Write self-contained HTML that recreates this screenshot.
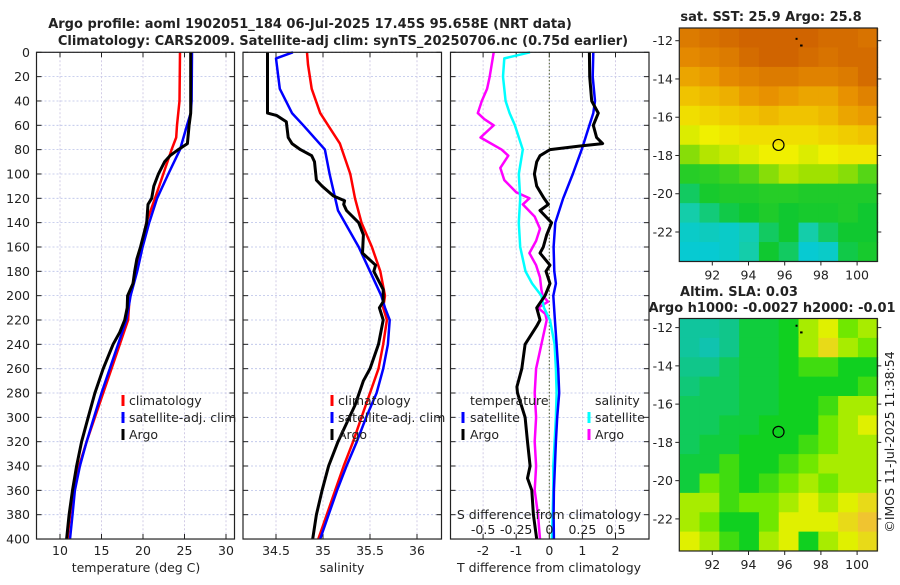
<!DOCTYPE html>
<html><head><meta charset="utf-8"><style>
body{margin:0;background:#fff;}
svg text{font-family:"DejaVu Sans","Liberation Sans",sans-serif;}
</style></head><body>
<svg id="chart" width="900" height="580" viewBox="0 0 900 580" xmlns="http://www.w3.org/2000/svg">
<rect width="900" height="580" fill="#fff"/>
</svg>
<script>
// ---------- DATA ----------
const tClimDepth=[0,40,60,70,80,100,120,140,160,180,200,220,240,260,280,300,320,340,360,380,400];
const tClimVal=[24.46,24.4,24.1,24.0,23.45,22.45,21.45,20.4,19.8,19.15,18.4,18.2,17.2,16.2,15.2,14.2,13.2,12.3,11.6,11.2,10.9];
const tSatDepth=[0,40,50,60,80,100,120,140,160,180,200,220,240,260,280,300,320,340,360,380,400];
const tSatVal=[25.9,25.85,25.75,25.3,24.46,23.05,21.7,20.75,19.95,19.3,18.5,18.0,17.0,16.0,15.0,14.1,13.2,12.4,11.8,11.5,11.2];
const tArgoDepth=[0,50,60,75,80,85,90,100,110,120,125,140,160,170,180,190,200,210,220,230,240,260,280,300,320,340,360,380,400];
const tArgoVal=[25.75,25.75,25.55,25.35,24.25,23.25,22.6,21.85,21.3,21.05,20.6,20.45,19.7,19.25,19.0,18.8,18.15,18.1,17.8,17.2,16.4,15.2,14.2,13.4,12.6,12.0,11.5,11.1,10.8];

const sClimDepth=[0,10,30,50,75,100,120,140,160,180,200,210,220,240,260,280,300,320,340,360,380,400];
const sClimVal=[34.83,34.84,34.88,34.97,35.18,35.29,35.34,35.41,35.52,35.61,35.66,35.64,35.68,35.64,35.59,35.5,35.41,35.32,35.22,35.13,35.04,34.95];
const sSatDepth=[0,5,30,50,60,80,100,120,130,160,180,200,210,220,240,260,280,300,320,340,360,380,400];
const sSatVal=[34.68,34.5,34.54,34.67,34.79,35.02,35.07,35.13,35.16,35.38,35.5,35.62,35.66,35.71,35.69,35.64,35.57,35.46,35.36,35.25,35.15,35.06,34.97];
const sArgoDepth=[0,50,52,57,70,75,80,85,90,105,110,118,122,125,130,140,150,165,175,180,195,205,210,220,240,260,270,290,310,320,340,360,380,400];
const sArgoVal=[34.41,34.41,34.51,34.61,34.63,34.67,34.76,34.88,34.91,34.93,34.99,35.11,35.23,35.22,35.25,35.38,35.43,35.42,35.56,35.54,35.64,35.64,35.6,35.64,35.59,35.5,35.43,35.34,35.22,35.16,35.06,34.99,34.93,34.89];

const dtArgoDepth=[0,20,40,50,60,70,75,77,80,85,90,100,110,120,125,130,140,150,160,165,175,180,190,200,210,220,225,240,260,275,280,300,320,340,350,360,380,400];
const dtArgoVal=[1.21,1.22,1.28,1.48,1.33,1.43,1.61,0.93,0.02,-0.28,-0.38,-0.45,-0.38,-0.16,-0.03,-0.28,0.07,-0.08,-0.18,-0.28,0.02,-0.1,0.02,-0.13,-0.38,-0.28,-0.38,-0.73,-0.83,-0.98,-0.96,-0.73,-0.66,-0.58,-0.66,-0.53,-0.48,-0.38];
const dtSatDepth=[0,20,40,50,60,80,100,120,140,160,180,190,200,220,240,260,280,300,320,340,360,380,400];
const dtSatVal=[1.33,1.31,1.38,1.33,1.21,0.98,0.71,0.42,0.18,0.13,0.15,0.2,0.12,0.17,0.22,0.27,0.3,0.24,0.2,0.17,0.14,0.13,0.14];
const dsSatDepth=[0,5,20,40,50,60,80,100,120,140,160,180,190,200,210,220,240,260,280,300,320,340,360,380,400];
const dsSatVal=[-0.146,-0.34,-0.35,-0.33,-0.30,-0.26,-0.2,-0.23,-0.22,-0.23,-0.22,-0.18,-0.13,-0.06,-0.04,0.005,0.04,0.05,0.055,0.05,0.04,0.03,0.03,0.025,0.02];
const dsArgoDepth=[0,20,30,40,50,55,60,70,80,85,95,105,115,120,125,135,145,155,165,175,185,195,200,205,210,215,220,240,260,280,300,320,340,360,380,400];
const dsArgoVal=[-0.42,-0.45,-0.47,-0.51,-0.54,-0.49,-0.42,-0.52,-0.36,-0.31,-0.37,-0.34,-0.25,-0.15,-0.2,-0.11,-0.07,-0.1,-0.15,-0.1,-0.07,-0.06,-0.05,-0.01,-0.085,-0.03,-0.02,-0.06,-0.1,-0.11,-0.1,-0.11,-0.1,-0.11,-0.085,-0.07];

const depthTicks=[0,20,40,60,80,100,120,140,160,180,200,220,240,260,280,300,320,340,360,380,400];
const tempTicks=[10,15,20,25,30];
const salTicks=[34.5,35,35.5,36];
const dtTicks=[-2,-1,0,1,2];
const dsTicks=[-0.5,-0.25,0,0.25,0.5];
const dsTickLabels=["-0.5","-0.25","0","0.25","0.5"];

const sstGrid=[
[27.0,27.1,27.2,27.3,27.4,27.4,27.3,27.2,27.2,27.1],
[26.8,26.9,27.0,27.2,27.3,27.3,27.2,27.1,27.2,27.2],
[26.5,26.6,26.8,26.9,27.0,27.0,26.9,26.9,27.0,27.2],
[26.2,26.3,26.4,26.6,26.7,26.6,26.5,26.5,26.7,26.9],
[25.9,26.0,26.1,26.2,26.3,26.2,26.2,26.3,26.5,26.6],
[25.6,25.7,25.8,25.9,25.9,25.9,25.9,26.0,26.1,26.2],
[25.2,25.4,25.5,25.6,25.7,25.7,25.6,25.7,25.8,25.8],
[24.6,24.7,24.9,25.0,25.2,25.4,25.3,25.3,25.2,25.0],
[24.1,24.4,24.5,24.5,24.6,24.6,24.5,24.5,24.5,24.5],
[23.8,24.0,24.2,24.3,24.5,24.3,24.4,24.4,24.5,24.3],
[23.5,23.6,23.5,23.7,24.1,24.3,23.8,24.1,24.3,24.3],
[23.4,23.4,23.5,23.8,24.3,24.1,23.4,23.5,24.2,24.4]];
const slaGrid=[
[-0.06,-0.06,-0.05,-0.02,-0.02,-0.01,0.02,0.03,0.01,0.02],
[-0.06,-0.07,-0.05,-0.02,-0.02,-0.01,0.02,0.04,0.02,0.01],
[-0.05,-0.05,-0.03,-0.02,-0.02,-0.01,0.0,0.0,-0.01,-0.01],
[-0.04,-0.03,-0.03,-0.02,-0.02,-0.01,-0.01,-0.01,-0.01,0.0],
[-0.03,-0.03,-0.03,-0.02,-0.02,-0.01,-0.01,0.0,0.02,0.02],
[-0.03,-0.03,-0.02,-0.02,-0.01,-0.01,-0.01,0.01,0.02,0.03],
[-0.03,-0.02,-0.02,-0.01,-0.01,-0.01,0.0,0.01,0.02,0.02],
[-0.02,-0.02,0.0,-0.01,-0.01,0.0,0.01,0.02,0.02,0.02],
[-0.02,0.01,0.0,-0.01,0.0,0.01,0.02,0.01,0.02,0.02],
[0.02,0.02,0.0,0.01,0.01,0.02,0.03,0.02,0.03,0.04],
[0.02,0.01,-0.01,-0.01,0.01,0.03,0.03,0.03,0.04,0.05],
[0.03,0.02,0.0,-0.01,0.02,0.03,-0.01,0.02,0.03,0.04]];
const lonTicks=[92,94,96,98,100];
const latTicks=[-12,-14,-16,-18,-20,-22];
const argoPos=[95.658,-17.45];

// ---------- HELPERS ----------
const svg=document.getElementById('chart');
const NS='http://www.w3.org/2000/svg';
function mk(tag,attrs,parent){const e=document.createElementNS(NS,tag);for(const k in attrs)e.setAttribute(k,attrs[k]);(parent||svg).appendChild(e);return e;}
function txt(s,x,y,size,anchor,weight,parent){const t=mk('text',{x:x,y:y,'font-size':size,'text-anchor':anchor||'middle','font-weight':weight||'normal',fill:'#222'},parent);t.textContent=s;return t;}

const yTop=52.3, yPx=1.2168;
const yD=d=>yTop+d*yPx;
const panels=[
 {name:'temperature',x0:36.5,x1:234.5,sx:v=>60+(v-10)*8.3},
 {name:'salinity',x0:243,x1:441.5,sx:v=>323+(v-35)*94},
 {name:'difference',x0:450.5,x1:649,sx:v=>549.3+v*33.1}
];
const sxS=v=>549.3+v*4*33.1;

function panelFrame(p,ticks,tickLabels,showDepth){
  const g=mk('g',{});
  
  
  const yB=yD(400);
  depthTicks.forEach(d=>{
    const l=mk('line',{x1:p.x0,x2:p.x1,y1:yD(d),y2:yD(d),stroke:'#b8c0e8','stroke-width':0.8,'stroke-dasharray':'2,2'},g);
    
    mk('line',{x1:p.x0,x2:p.x0+5,y1:yD(d),y2:yD(d),stroke:'#222'},g);
    mk('line',{x1:p.x1-5,x2:p.x1,y1:yD(d),y2:yD(d),stroke:'#222'},g);
    if(showDepth){const t=txt(String(d),30,yD(d)+4.5,12.5,'end','normal',g);}
  });
  ticks.forEach((v,i)=>{
    const x=p.sx(v);
    const l=mk('line',{x1:x,x2:x,y1:yTop,y2:yB,stroke:'#c8c0e0','stroke-width':0.8,'stroke-dasharray':'2,2'},g);
    
    mk('line',{x1:x,x2:x,y1:yB-5,y2:yB,stroke:'#222'},g);
    mk('line',{x1:x,x2:x,y1:yTop,y2:yTop+5,stroke:'#222'},g);
    const t=txt(tickLabels[i],x,555,12.5,'middle','normal',g);
    
  });
  return g;
}
function line(p,sx,depths,vals,color,w,name){
  const pts=depths.map((d,i)=>sx(vals[i]).toFixed(1)+','+yD(d).toFixed(1)).join(' ');
  const e=mk('polyline',{points:pts,fill:'none',stroke:color,'stroke-width':w,'stroke-linejoin':'round'});
  
  
  return e;
}
function border(p){const r=mk('rect',{x:p.x0,y:yTop,width:p.x1-p.x0,height:yD(400)-yTop,fill:'none',stroke:'#222','stroke-width':1.2});}
function legendItem(mx,tx,y,color,label,g){
  const m=mk('rect',{x:mx-1.5,y:y-10,width:3,height:11,fill:color},g);
  
  const t=txt(label,tx,y,12.5,'start','normal',g);
  
}

// ---------- TITLE ----------
let t1=txt('Argo profile: aoml 1902051_184 06-Jul-2025 17.45S 95.658E (NRT data)',310,28,13,'middle','bold');

let t2=txt('Climatology: CARS2009. Satellite-adj clim: synTS_20250706.nc (0.75d earlier)',343,45,13,'middle','bold');


// ---------- PANEL 1 ----------
let P=panels[0];
panelFrame(P,tempTicks,tempTicks.map(String),true);
line(P,P.sx,tClimDepth,tClimVal,'#ff0000',2.5,'temp-climatology-line');
line(P,P.sx,tSatDepth,tSatVal,'#0000ff',2.5,'temp-satellite-line');
line(P,P.sx,tArgoDepth,tArgoVal,'#000',3,'temp-argo-line');
border(P);
let lg=mk('g',{});
legendItem(123,129,405,'#ff0000','climatology',lg);
legendItem(123,129,422,'#0000ff','satellite-adj. clim',lg);
legendItem(123,129,439,'#000','Argo',lg);
let a1=txt('temperature (deg C)',136,572,12.5);

// ---------- PANEL 2 ----------
P=panels[1];
panelFrame(P,salTicks,salTicks.map(String),false);
line(P,P.sx,sClimDepth,sClimVal,'#ff0000',2.5,'sal-climatology-line');
line(P,P.sx,sSatDepth,sSatVal,'#0000ff',2.5,'sal-satellite-line');
line(P,P.sx,sArgoDepth,sArgoVal,'#000',3,'sal-argo-line');
border(P);
lg=mk('g',{});
legendItem(332,338,405,'#ff0000','climatology',lg);
legendItem(332,338,422,'#0000ff','satellite-adj. clim',lg);
legendItem(332,338,439,'#000','Argo',lg);
a1=txt('salinity',342,572,12.5);

// ---------- PANEL 3 ----------
P=panels[2];
panelFrame(P,dtTicks,dtTicks.map(String),false);
let z=mk('line',{x1:P.sx(0),x2:P.sx(0),y1:yTop,y2:yD(400),stroke:'#445522','stroke-width':1,'stroke-dasharray':'1.5,2'});

line(P,sxS,dsArgoDepth,dsArgoVal,'#ff00ff',2.5,'sal-diff-argo-line');
line(P,sxS,dsSatDepth,dsSatVal,'#00ffff',2.5,'sal-diff-satellite-line');
line(P,P.sx,dtSatDepth,dtSatVal,'#0000ff',2.5,'temp-diff-satellite-line');
line(P,P.sx,dtArgoDepth,dtArgoVal,'#000',3,'temp-diff-argo-line');
border(P);
lg=mk('g',{});
let lt=txt('temperature',470,405,12.5,'start','normal',lg);
legendItem(463,470,422,'#0000ff','satellite',lg);
legendItem(463,470,439,'#000','Argo',lg);
lt=txt('salinity',595,405,12.5,'start','normal',lg);
legendItem(589,595,422,'#00ffff','satellite',lg);
legendItem(589,595,439,'#ff00ff','Argo',lg);
let sa=txt('S difference from climatology',549,519,12.5);
dsTicks.forEach((v,i)=>{const t=txt(dsTickLabels[i],sxS(v),534,12.5);});
a1=txt('T difference from climatology',549,572,12.5);

// ---------- MAPS ----------
const mx0=679.3,mx1=877.3;
const lonX=lon=>712.3+(lon-92)*18.1;
const lon0=90.2,lon1=90.2+(mx1-mx0)/18.1;
function rgb(c){return 'rgb('+c.join(',')+')';}
function lerpColor(stops,v){
  if(v<=stops[0][0])return rgb(stops[0][1]);
  for(let i=1;i<stops.length;i++){if(v<=stops[i][0]){const a=stops[i-1],b=stops[i];const f=(v-a[0])/(b[0]-a[0]);
    return rgb([0,1,2].map(k=>Math.round(a[1][k]+(b[1][k]-a[1][k])*f)));}}
  return rgb(stops[stops.length-1][1]);
}
const sstStops=[[23.2,[0,200,230]],[23.8,[20,205,170]],[24.3,[16,200,48]],[24.9,[60,210,30]],[25.3,[160,225,0]],[25.7,[240,240,0]],[26.2,[240,195,0]],[26.7,[232,145,0]],[27.3,[208,100,0]]];
const slaStops=[[-0.07,[16,195,175]],[-0.04,[16,200,120]],[-0.01,[16,208,32]],[0.01,[112,232,0]],[0.03,[224,240,0]],[0.05,[240,196,48]]];
function mapPanel(name,yT,yB,grid,stops,lat12y){
  const g=mk('g',{});
  const latY=lat=>lat12y+(-12-lat)*19.13;
  const lat0=-12-(yT-lat12y)/19.13, lat1=-12-(yB-lat12y)/19.13;
  const rows=grid.length, cols=grid[0].length;
  const dLon=(lon1-lon0)/cols, dLat=(lat0-lat1)/rows;
  grid.forEach((row,r)=>row.forEach((v,c)=>{
    const x=lonX(lon0+c*dLon), y=latY(lat0-r*dLat);
    const cell=mk('rect',{x:x,y:y,width:lonX(lon0+(c+1)*dLon)-x+0.5,height:latY(lat0-(r+1)*dLat)-y+0.5,fill:lerpColor(stops,v)},g);
    
  }));
  mk('rect',{x:mx0,y:yT,width:mx1-mx0,height:yB-yT,fill:'none',stroke:'#222','stroke-width':1.2},g);
  latTicks.forEach(lat=>{const y=latY(lat);
    mk('line',{x1:mx0-4,x2:mx0,y1:y,y2:y,stroke:'#222'},g);mk('line',{x1:mx1,x2:mx1+4,y1:y,y2:y,stroke:'#222'},g);
    const t=txt(String(lat),673,y+4.5,12.5,'end','normal',g);});
  lonTicks.forEach(lon=>{const x=lonX(lon);
    mk('line',{x1:x,x2:x,y1:yB,y2:yB+4,stroke:'#222'},g);
    const t=txt(String(lon),x,yB+18,12.5,'middle','normal',g);});
  const c=mk('circle',{cx:lonX(argoPos[0]),cy:latY(argoPos[1]),r:5.5,fill:'none',stroke:'#000','stroke-width':1.2},g);
  
  mk('rect',{x:lonX(96.6),y:latY(-11.85),width:2,height:2,fill:'#000'},g);
  mk('rect',{x:lonX(96.85),y:latY(-12.2),width:2.5,height:2,fill:'#000'},g);
}
mapPanel('sst-map',28,261.5,sstGrid,sstStops,40.7);
mapPanel('sla-map',318.5,551,slaGrid,slaStops,327.6);
let mt=txt('sat. SST: 25.9 Argo: 25.8',771,21,13,'middle','bold');
mt=txt('Altim. SLA: 0.03',739,296,13,'middle','bold');
mt=txt('Argo h1000: -0.0027 h2000: -0.01',772,312,13,'middle','bold');
mt=txt('©IMOS 11-Jul-2025 11:38:54',0,0,12.5,'middle','normal');
mt.setAttribute('transform','translate(894,442) rotate(-90)');

</script>
</body></html>
